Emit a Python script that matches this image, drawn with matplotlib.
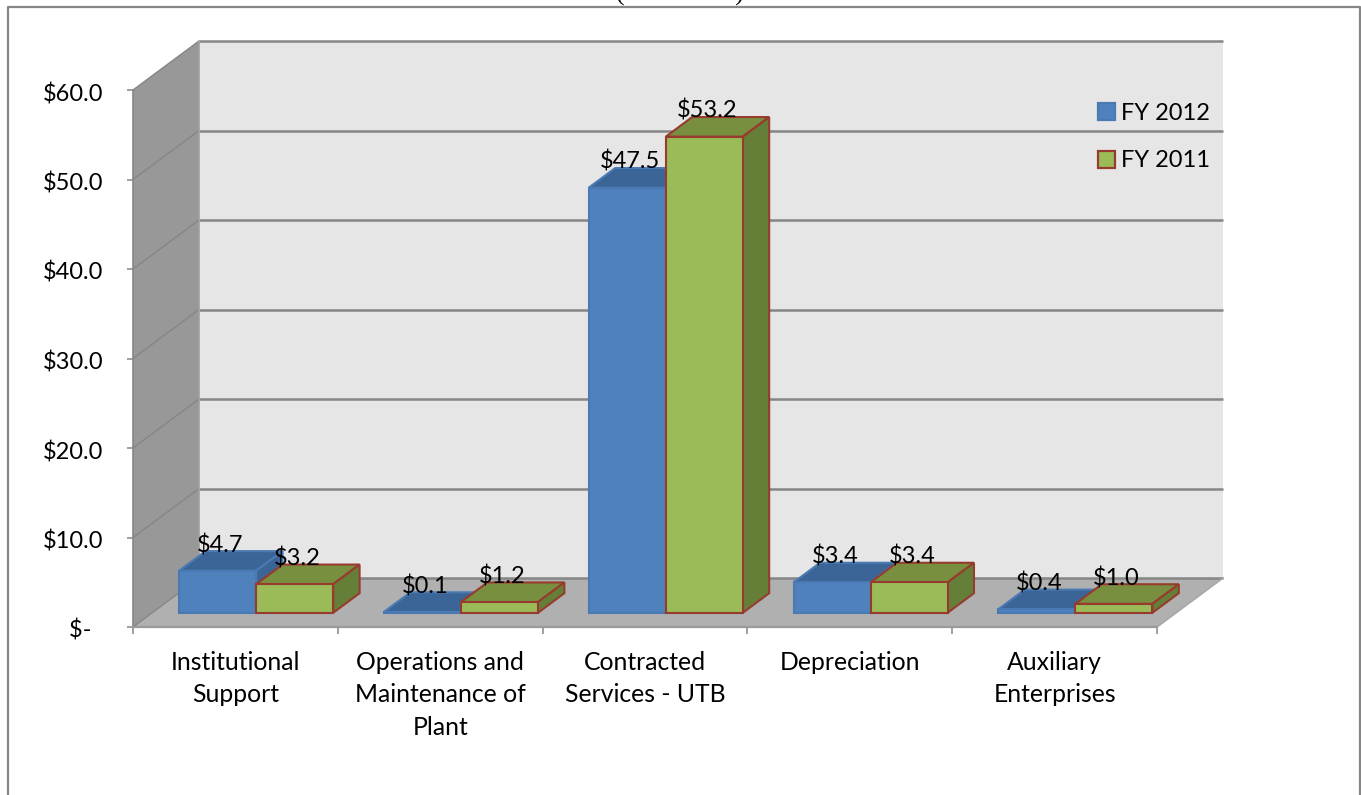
import matplotlib
matplotlib.use('Agg')
import matplotlib.pyplot as plt
from matplotlib.lines import Line2D
from matplotlib.patches import Polygon, Patch
from matplotlib.transforms import ScaledTranslation

categories = ['Institutional\nSupport', 'Operations and\nMaintenance of\nPlant',
              'Contracted\nServices - UTB', 'Depreciation', 'Auxiliary\nEnterprises']
fy2012 = [4.7, 0.1, 47.5, 3.4, 0.4]
fy2011 = [3.2, 1.2, 53.2, 3.4, 1.0]
y_ticks = [0, 10, 20, 30, 40, 50, 60]
y_labels = ['$-  ', '$10.0', '$20.0', '$30.0', '$40.0', '$50.0', '$60.0']

W, H = 1361, 795
# pixel position of the front of the chart box
PX_LEFT, PX_CAT = 133, 204.8
PX_ZERO, PX_UNIT = 627, 8.95
# depth of the box, in data units
DX = 66 / PX_CAT
DY = 49 / PX_UNIT

GRID = '#868686'
BLUE = {'front': '#4F81BD', 'top': '#3B6596', 'side': '#3B6596', 'edge': '#4A7AB4'}
GREEN = {'front': '#9BBB59', 'top': '#788F40', 'side': '#667F38', 'edge': '#973B2E'}


# move a point back into the box, depth 0 is front and 1 is back
def project(x, y, depth=0.0):
    return (x + depth * DX, y + depth * DY)


def draw_bar(ax, x0, width, value, style):
    d0, d1 = 0.29, 0.69
    x1 = x0 + width
    top = [project(x0, value, d0), project(x1, value, d0), project(x1, value, d1), project(x0, value, d1)]
    side = [project(x1, 0, d0), project(x1, value, d0), project(x1, value, d1), project(x1, 0, d1)]
    front = [project(x0, 0, d0), project(x1, 0, d0), project(x1, value, d0), project(x0, value, d0)]
    for pts, key in ((top, 'top'), (side, 'side'), (front, 'front')):
        ax.add_patch(Polygon(pts, closed=True, facecolor=style[key], edgecolor=style['edge'], linewidth=1.5, zorder=4))
    ax.annotate('$%.1f' % value, project((x0 + x1) / 2, value, d0), xytext=(2, 18.5), textcoords='offset points',
                ha='center', va='center', fontsize=17, color='black', zorder=6)


fig = plt.figure(figsize=(W / 100, H / 100), dpi=100)
plt.rcParams['font.family'] = ['Lato', 'DejaVu Sans']
ax = fig.add_axes([0, 0, 1, 1])
ax.set_facecolor('none')
ax.set_xlim(-PX_LEFT / PX_CAT, (W - PX_LEFT) / PX_CAT)
ax.set_ylim((PX_ZERO - H) / PX_UNIT, PX_ZERO / PX_UNIT)

n = len(categories)
y_max = y_ticks[-1]

# walls and floor
ax.add_patch(Polygon([project(0, 0, 1), project(n, 0, 1), project(n, y_max, 1), project(0, y_max, 1)],
                     closed=True, facecolor='#E6E6E6', edgecolor='none', zorder=1))
ax.add_patch(Polygon([project(0, 0), project(0, 0, 1), project(0, y_max, 1), project(0, y_max)],
                     closed=True, facecolor='#989898', edgecolor='none', zorder=1))
ax.add_patch(Polygon([project(0, 0), project(n, 0), project(n, 0, 1), project(0, 0, 1)],
                     closed=True, facecolor='#B0B0B0', edgecolor='none', zorder=1))

# gridlines go along the side wall and the back wall
for v in y_ticks:
    xs, ys = zip(project(0, v), project(0, v, 1))
    ax.plot(xs, ys, color=GRID, linewidth=1.0, zorder=2, solid_capstyle='butt')
    xs, ys = zip(project(0, v, 1), project(n, v, 1))
    ax.plot(xs, ys, color=GRID, linewidth=1.8, zorder=2, solid_capstyle='butt')
xs, ys = zip(project(n, 0), project(n, 0, 1))
ax.plot(xs, ys, color='#A8A8A8', linewidth=1.2, zorder=2)
xs, ys = zip(project(0, y_max, 1), project(0, 0, 1))
ax.plot(xs, ys, color='#A0A0A0', linewidth=1.2, zorder=2)

# bars
bar_w = 0.376
for i in range(n):
    x0 = i + 0.132
    draw_bar(ax, x0, bar_w, fy2012[i], BLUE)
    draw_bar(ax, x0 + bar_w, bar_w, fy2011[i], GREEN)

# axes
for s in ('top', 'right'):
    ax.spines[s].set_visible(False)
ax.spines['left'].set_position(('data', 0))
ax.spines['bottom'].set_position(('data', 0))
ax.spines['left'].set_bounds(0, y_max)
ax.spines['bottom'].set_bounds(0, n)
ax.spines['left'].set_color(GRID)
ax.spines['bottom'].set_color('#9A9A9A')
ax.spines['left'].set_linewidth(1.2)
ax.spines['bottom'].set_linewidth(1.6)
ax.spines['left'].set_zorder(3)
ax.spines['bottom'].set_zorder(3)

ax.set_yticks(y_ticks)
ax.set_yticklabels(y_labels)
ax.tick_params(axis='y', length=4.5, width=1.1, color=GRID, pad=17, labelsize=17)
# labels sit a little under their ticks
for label in ax.get_yticklabels():
    label.set_transform(label.get_transform() + ScaledTranslation(0, -2 / 100, fig.dpi_scale_trans))
ax.set_xticks(range(n + 1))
ax.set_xticklabels([])
ax.set_xticks([i + 0.5 for i in range(n)], minor=True)
ax.set_xticklabels(categories, minor=True, fontsize=17.8, linespacing=1.5)
ax.tick_params(axis='x', which='major', length=5, width=1.1, color=GRID)
ax.tick_params(axis='x', which='minor', length=0, pad=17)

legend = ax.legend(handles=[Patch(facecolor=BLUE['front'], edgecolor=BLUE['edge'], linewidth=1.6, label='FY 2012'),
                            Patch(facecolor=GREEN['front'], edgecolor=GREEN['edge'], linewidth=1.6, label='FY 2011')],
                   loc='upper left', bbox_to_anchor=(1098 / W, 1 - 103 / H), borderaxespad=0, borderpad=0,
                   frameon=False, fontsize=17, handlelength=0.72, handleheight=0.72, handletextpad=0.25,
                   labelspacing=1.12)
legend.set_zorder(7)

# chart frame, the title is cut by the top of the picture
frame_x = [8 / W, 8 / W, 1360 / W, 1360 / W]
frame_y = [0, 1 - 7 / H, 1 - 7 / H, 0]
fig.add_artist(Line2D(frame_x, frame_y, transform=fig.transFigure, color=GRID, linewidth=1.6))
fig.text(680 / W, 1 - 1 / H, '(in millions)', family='Liberation Serif', fontsize=18.5,
         ha='center', va='baseline', color='black')

fig.savefig('out.png', dpi=100)
